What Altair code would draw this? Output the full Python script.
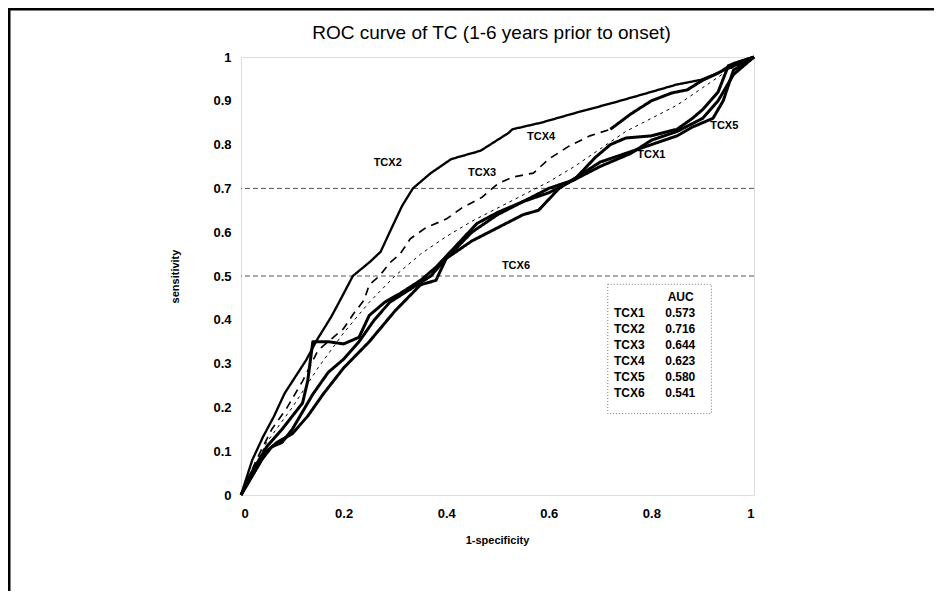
import altair as alt
import pandas as pd

title_text = "ROC curve of TC (1-6 years prior to onset)"
x_title = "1-specificity"
y_title = "sensitivity"

# ---- curves (1-specificity, sensitivity) ----
tcx1_x = [0, 0.02, 0.04, 0.06, 0.08, 0.10, 0.12, 0.14, 0.17, 0.20, 0.23, 0.26, 0.29, 0.33, 0.37, 0.40,
          0.45, 0.50, 0.55, 0.60, 0.65, 0.70, 0.76, 0.80, 0.85, 0.90, 0.93, 0.96, 1.0]
tcx1_y = [0, 0.04, 0.08, 0.11, 0.12, 0.15, 0.19, 0.23, 0.28, 0.31, 0.35, 0.40, 0.44, 0.47, 0.50, 0.54,
          0.60, 0.64, 0.67, 0.70, 0.72, 0.75, 0.78, 0.81, 0.83, 0.86, 0.90, 0.96, 1.0]

tcx2_x = [0, 0.022, 0.043, 0.064, 0.085, 0.106, 0.127, 0.148, 0.176, 0.197, 0.218, 0.251, 0.272, 0.293,
          0.314, 0.335, 0.37, 0.41, 0.467, 0.522, 0.529, 0.585, 0.654, 0.724, 0.793, 0.849, 0.897, 0.953, 1.0]
tcx2_y = [0, 0.08, 0.133, 0.179, 0.232, 0.27, 0.308, 0.354, 0.407, 0.453, 0.50, 0.532, 0.555, 0.608,
          0.66, 0.70, 0.735, 0.767, 0.786, 0.827, 0.835, 0.85, 0.873, 0.895, 0.918, 0.937, 0.948, 0.975, 1.0]

tcx3_dash_x = [0, 0.03, 0.06, 0.09, 0.12, 0.15, 0.18, 0.20, 0.22, 0.24, 0.25, 0.27, 0.29, 0.31, 0.33,
               0.36, 0.40, 0.43, 0.47, 0.50, 0.53, 0.57, 0.60, 0.64, 0.68, 0.72]
tcx3_dash_y = [0, 0.08, 0.15, 0.20, 0.26, 0.33, 0.36, 0.38, 0.415, 0.445, 0.48, 0.50, 0.53, 0.55, 0.585,
               0.61, 0.63, 0.655, 0.68, 0.71, 0.726, 0.735, 0.767, 0.797, 0.82, 0.835]
tcx3_solid_x = [0.72, 0.76, 0.80, 0.84, 0.87, 0.90, 0.93, 0.96, 1.0]
tcx3_solid_y = [0.835, 0.87, 0.90, 0.918, 0.925, 0.947, 0.963, 0.985, 1.0]

tcx4_x = [0, 0.05, 0.10, 0.15, 0.20, 0.25, 0.30, 0.35, 0.40, 0.45, 0.50, 0.55, 0.60, 0.65, 0.70,
          0.75, 0.80, 0.85, 0.90, 0.95, 1.0]
tcx4_y = [0, 0.12, 0.20, 0.29, 0.37, 0.44, 0.50, 0.55, 0.59, 0.625, 0.655, 0.685, 0.715, 0.75, 0.79,
          0.83, 0.86, 0.89, 0.93, 0.97, 1.0]

tcx5_x = [0, 0.02, 0.05, 0.08, 0.10, 0.12, 0.13, 0.14, 0.17, 0.20, 0.23, 0.25, 0.28, 0.31, 0.35, 0.38,
          0.42, 0.46, 0.50, 0.55, 0.60, 0.65, 0.69, 0.72, 0.75, 0.80, 0.85, 0.88, 0.90, 0.93, 0.95, 1.0]
tcx5_y = [0, 0.05, 0.11, 0.15, 0.18, 0.21, 0.26, 0.35, 0.35, 0.345, 0.36, 0.41, 0.44, 0.46, 0.49, 0.52,
          0.57, 0.62, 0.645, 0.67, 0.69, 0.72, 0.77, 0.80, 0.815, 0.82, 0.835, 0.86, 0.88, 0.92, 0.98, 1.0]

tcx6_x = [0, 0.02, 0.05, 0.07, 0.10, 0.13, 0.16, 0.20, 0.25, 0.30, 0.35, 0.38, 0.40, 0.45, 0.50, 0.55,
          0.58, 0.62, 0.66, 0.70, 0.75, 0.80, 0.85, 0.88, 0.90, 0.92, 0.94, 0.96, 1.0]
tcx6_y = [0, 0.04, 0.10, 0.12, 0.14, 0.18, 0.23, 0.29, 0.35, 0.42, 0.48, 0.49, 0.54, 0.58, 0.61, 0.64,
          0.65, 0.70, 0.73, 0.76, 0.78, 0.80, 0.82, 0.84, 0.85, 0.86, 0.90, 0.97, 1.0]

# ---- in-plot curve labels ----
label_names = ["TCX2", "TCX4", "TCX3", "TCX1", "TCX5", "TCX6"]
label_x = [0.286, 0.585, 0.47, 0.80, 0.942, 0.536]
label_y = [0.757, 0.818, 0.736, 0.777, 0.843, 0.522]

# ---- AUC table ----
auc_names = ["TCX1", "TCX2", "TCX3", "TCX4", "TCX5", "TCX6"]
auc_values = ["0.573", "0.716", "0.644", "0.623", "0.580", "0.541"]
auc_row_y = [0.415, 0.378, 0.342, 0.305, 0.269, 0.232]
auc_header_y = 0.451

grid_values = [0.5, 0.7]
y_ticks = [0, 0.1, 0.2, 0.3, 0.4, 0.5, 0.6, 0.7, 0.8, 0.9, 1.0]
x_ticks = [0, 0.2, 0.4, 0.6, 0.8, 1.0]

# ---- build tables ----
parts = [
    ("TCX1", "TCX1", "thick", tcx1_x, tcx1_y),
    ("TCX2", "TCX2", "thin", tcx2_x, tcx2_y),
    ("TCX3", "TCX3a", "dashed", tcx3_dash_x, tcx3_dash_y),
    ("TCX3", "TCX3b", "thick", tcx3_solid_x, tcx3_solid_y),
    ("TCX4", "TCX4", "thindash", tcx4_x, tcx4_y),
    ("TCX5", "TCX5", "thick", tcx5_x, tcx5_y),
    ("TCX6", "TCX6", "thick", tcx6_x, tcx6_y),
]
rows = []
for series, part, style, xs_, ys_ in parts:
    for i, (a, b) in enumerate(zip(xs_, ys_)):
        rows.append({"series": series, "part": part, "style": style, "idx": i, "x": a, "y": b})
curves = pd.DataFrame(rows)

labels = pd.DataFrame({"name": label_names, "x": label_x, "y": label_y})
auc_df = pd.DataFrame({"name": auc_names, "auc": auc_values, "y": auc_row_y})
grid_df = pd.DataFrame({"y": grid_values})

FONT = "Liberation Sans"
W, H = 513, 438
PAD_L, PAD_T, PAD_R, PAD_B = 233, 49, 180, 96

xs = alt.Scale(domain=[0, 1], nice=False)
ys = alt.Scale(domain=[0, 1], nice=False)

styles = ["thick", "thin", "dashed", "thindash"]

grid = alt.Chart(grid_df).mark_rule(color="#555555", strokeWidth=1, strokeDash=[5, 3]).encode(
    y=alt.Y("y:Q", scale=ys)
)

lines = alt.Chart(curves).mark_line(color="black", strokeJoin="round", strokeCap="butt").encode(
    x=alt.X("x:Q", scale=xs,
            axis=alt.Axis(values=x_ticks, format="~g", title=x_title, grid=False, ticks=False,
                          domain=False, labelPadding=12, labelFontSize=13, labelFontWeight="bold",
                          labelFont=FONT, titleFont=FONT, titleFontSize=11, titleFontWeight="bold",
                          titleX=256, titleY=45, titleBaseline="middle", titleAlign="center")),
    y=alt.Y("y:Q", scale=ys,
            axis=alt.Axis(values=y_ticks, format="~g", title=y_title, grid=False, ticks=False,
                          domain=False, labelPadding=10, labelFontSize=13, labelFontWeight="bold",
                          labelFont=FONT, titleFont=FONT, titleFontSize=11, titleFontWeight="bold",
                          titleX=-66, titleY=219, titleAngle=270, titleBaseline="middle",
                          titleAlign="center")),
    detail="part:N",
    order="idx:Q",
    strokeWidth=alt.StrokeWidth("style:N", scale=alt.Scale(domain=styles, range=[3, 1, 4, 1.2]),
                                legend=None),
    strokeDash=alt.StrokeDash("style:N",
                              scale=alt.Scale(domain=styles,
                                              range=[[1, 0], [1, 0], [8, 6], [3, 4]]),
                              legend=None),
)

curve_labels = alt.Chart(labels).mark_text(font=FONT, fontSize=11, fontWeight="bold",
                                           color="black").encode(
    x=alt.X("x:Q", scale=xs), y=alt.Y("y:Q", scale=ys), text="name:N"
)

# AUC table box (placed around the table rows)
box_df = pd.DataFrame({"x": [0.715], "x2": [0.917], "y": [auc_row_y[-1] - 0.046],
                       "y2": [auc_header_y + 0.03]})
box = alt.Chart(box_df).mark_rect(fill="white", stroke="#777777", strokeWidth=1,
                                  strokeDash=[1, 2]).encode(
    x=alt.X("x:Q", scale=xs), x2="x2:Q", y=alt.Y("y:Q", scale=ys), y2="y2:Q"
)

auc_names_text = alt.Chart(auc_df).mark_text(font=FONT, fontSize=12, fontWeight="bold",
                                             align="left", color="black").encode(
    x=alt.value(0.727 * W), y=alt.Y("y:Q", scale=ys), text="name:N"
)
auc_vals_text = alt.Chart(auc_df).mark_text(font=FONT, fontSize=12, fontWeight="bold",
                                            align="left", color="black").encode(
    x=alt.value(0.827 * W), y=alt.Y("y:Q", scale=ys), text="auc:N"
)
header_df = pd.DataFrame({"t": ["AUC"], "y": [auc_header_y]})
auc_header = alt.Chart(header_df).mark_text(font=FONT, fontSize=12, fontWeight="bold",
                                            align="center", color="black").encode(
    x=alt.value(0.857 * W), y=alt.Y("y:Q", scale=ys), text="t:N"
)

# chart title as a text mark centred above the plot
title_df = pd.DataFrame({"t": [title_text]})
title_mark = alt.Chart(title_df).mark_text(font=FONT, fontSize=19, fontWeight="normal",
                                           align="center", baseline="middle",
                                           color="black").encode(
    x=alt.value(W / 2 - 6), y=alt.value(-24), text="t:N"
)

# page frame (top and left edges of the scanned figure)
frame_df = pd.DataFrame({"k": [0]})
frame_top = alt.Chart(frame_df).mark_rule(color="black", strokeWidth=3).encode(
    x=alt.value(-PAD_L), x2=alt.value(W + PAD_R), y=alt.value(-PAD_T + 1)
)
frame_left = alt.Chart(frame_df).mark_rule(color="black", strokeWidth=3).encode(
    x=alt.value(-PAD_L + 1), y=alt.value(-PAD_T), y2=alt.value(H + PAD_B)
)

chart = alt.layer(
    grid, box, lines, curve_labels, auc_header, auc_names_text, auc_vals_text, title_mark,
    frame_top, frame_left
).properties(
    width=W, height=H,
    autosize=alt.AutoSizeParams(type="none"),
    padding={"left": PAD_L, "top": PAD_T, "right": PAD_R, "bottom": PAD_B},
).configure_view(
    stroke="black", strokeWidth=2
).configure(background="white")

chart.save("out.html", embed_options={"renderer": "svg", "actions": False})
